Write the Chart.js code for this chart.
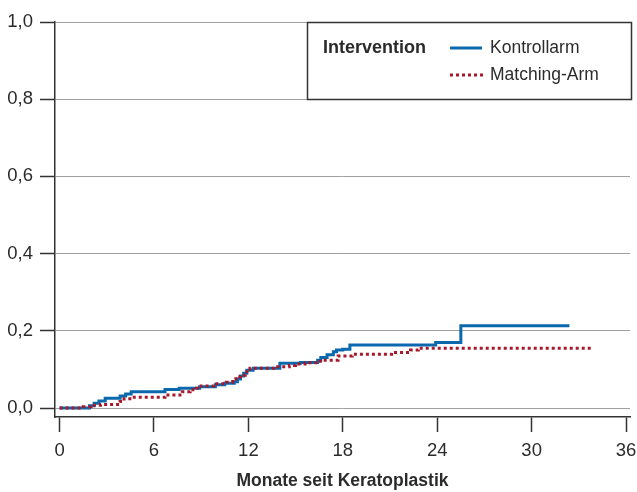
<!DOCTYPE html>
<html><head><meta charset="utf-8">
<script src="https://cdn.jsdelivr.net/npm/chart.js@4.4.0/dist/chart.umd.min.js"></script>
<style>html,body{margin:0;padding:0;background:#fff}canvas{display:block}</style>
</head><body>
<canvas id="c" width="637" height="492"></canvas>
<script>
// ---- data ----
const xTicks = [0, 6, 12, 18, 24, 30, 36];
const yTicks = [0, 0.2, 0.4, 0.6, 0.8, 1.0];
const seriesNames = ['Kontrollarm', 'Matching-Arm'];
const legendTitle = 'Intervention';
const xTitle = 'Monate seit Keratoplastik';

const kontrollTimes  = [0, 1.9, 2.2, 2.5, 2.9, 3.85, 4.2, 4.55, 6.7, 7.6, 8.9, 9.9, 10.5, 11.1, 11.3, 11.5, 11.7, 11.9, 12.3, 14.0, 15.3, 16.4, 16.6, 17.0, 17.4, 17.6, 18.0, 18.45, 23.9, 25.5, 32.4];
const kontrollValues = [0, 0.006, 0.012, 0.018, 0.025, 0.031, 0.036, 0.042, 0.048, 0.051, 0.055, 0.060, 0.064, 0.068, 0.075, 0.083, 0.090, 0.098, 0.103, 0.116, 0.118, 0.124, 0.131, 0.138, 0.146, 0.150, 0.152, 0.163, 0.170, 0.213, 0.213];

const matchingTimes  = [0, 1.5, 2.0, 2.6, 3.85, 4.1, 4.6, 6.7, 7.8, 8.3, 8.7, 9.0, 9.8, 10.6, 11.0, 11.2, 11.5, 11.8, 12.1, 13.6, 14.6, 15.0, 15.6, 16.4, 16.7, 17.7, 18.6, 21.1, 22.3, 22.8, 33.8];
const matchingValues = [0, 0.003, 0.007, 0.009, 0.017, 0.024, 0.028, 0.034, 0.042, 0.047, 0.051, 0.057, 0.063, 0.067, 0.075, 0.081, 0.085, 0.094, 0.103, 0.107, 0.110, 0.114, 0.117, 0.121, 0.124, 0.135, 0.139, 0.144, 0.150, 0.155, 0.157];

// ---- styles ----
const FONT = "'Liberation Sans Narrow', 'Arial Narrow', 'Liberation Sans', Arial, sans-serif";
const BLUE = '#0a68ad';
const RED = '#a8182a';
const TEXT = '#2b2b2b';

const toXY = (ts, vs) => ts.map((t, i) => ({x: t, y: vs[i]}));

const legendPlugin = {
  id: 'boxLegend',
  afterDatasetsDraw(chart) {
    const ctx = chart.ctx;
    const ca = chart.chartArea;
    const left = 307, top = ca.top, right = 632, bottom = 100;
    ctx.save();
    ctx.fillStyle = '#fff';
    ctx.fillRect(left, top, right - left, bottom - top);
    ctx.strokeStyle = '#333';
    ctx.lineWidth = 1.5;
    ctx.strokeRect(left + 0.5, top + 0.5, right - left - 1, bottom - top - 1);
    ctx.fillStyle = TEXT;
    ctx.textBaseline = 'middle';
    ctx.font = "bold 18px " + FONT;
    ctx.fillText(legendTitle, 323, 48);
    ctx.font = "17.5px " + FONT;
    ctx.fillText(seriesNames[0], 490, 48);
    ctx.fillText(seriesNames[1], 490, 75);
    ctx.lineWidth = 3;
    ctx.strokeStyle = BLUE;
    ctx.beginPath(); ctx.moveTo(450, 48); ctx.lineTo(482, 48); ctx.stroke();
    ctx.strokeStyle = RED;
    ctx.setLineDash([3, 3]);
    ctx.beginPath(); ctx.moveTo(450, 75); ctx.lineTo(483, 75); ctx.stroke();
    ctx.restore();
  }
};

new Chart(document.getElementById('c'), {
  type: 'line',
  data: {
    datasets: [
      {label: seriesNames[1], data: toXY(matchingTimes, matchingValues), borderColor: RED, borderWidth: 3, borderDash: [3, 3], stepped: 'before', pointRadius: 0, fill: false, order: 0},
      {label: seriesNames[0], data: toXY(kontrollTimes, kontrollValues), borderColor: BLUE, borderWidth: 3, stepped: 'before', pointRadius: 0, fill: false, order: 1}
    ]
  },
  options: {
    responsive: false,
    animation: false,
    layout: {padding: {top: 22, left: 0, right: 7, bottom: 0}},
    plugins: {legend: {display: false}, tooltip: {enabled: false}},
    scales: {
      x: {
        type: 'linear',
        min: -0.29, max: 36.25,
        afterBuildTicks: s => { s.ticks = xTicks.map(v => ({value: v})); },
        afterFit: s => { s.height = 75; s.paddingLeft = 0; s.paddingRight = 0; },
        border: {color: '#333', width: 1.5},
        grid: {drawOnChartArea: false, drawTicks: true, tickLength: 15, tickColor: '#333', tickWidth: 1.5},
        ticks: {color: TEXT, font: {family: FONT, size: 18.5}, padding: 8, maxRotation: 0, autoSkip: false},
        title: {display: true, text: xTitle, color: TEXT, font: {family: FONT, size: 17.5, weight: 'bold'}, padding: {top: 4, bottom: 0}}
      },
      y: {
        type: 'linear',
        min: -0.0233, max: 1.0,
        afterBuildTicks: s => { s.ticks = yTicks.map(v => ({value: v})); },
        afterFit: s => { s.width = 55; s.paddingTop = 0; s.paddingBottom = 0; },
        border: {color: '#333', width: 1.5},
        grid: {color: '#a0a0a0', lineWidth: 1, borderDash: [1, 1.5], drawTicks: true, tickLength: 15, tickColor: '#333', tickWidth: 1.5, tickBorderDash: []},
        ticks: {color: TEXT, font: {family: FONT, size: 18.5}, padding: 7, callback: v => v.toFixed(1).replace('.', ',')}
      }
    }
  },
  plugins: [legendPlugin]
});
</script>
</body></html>
